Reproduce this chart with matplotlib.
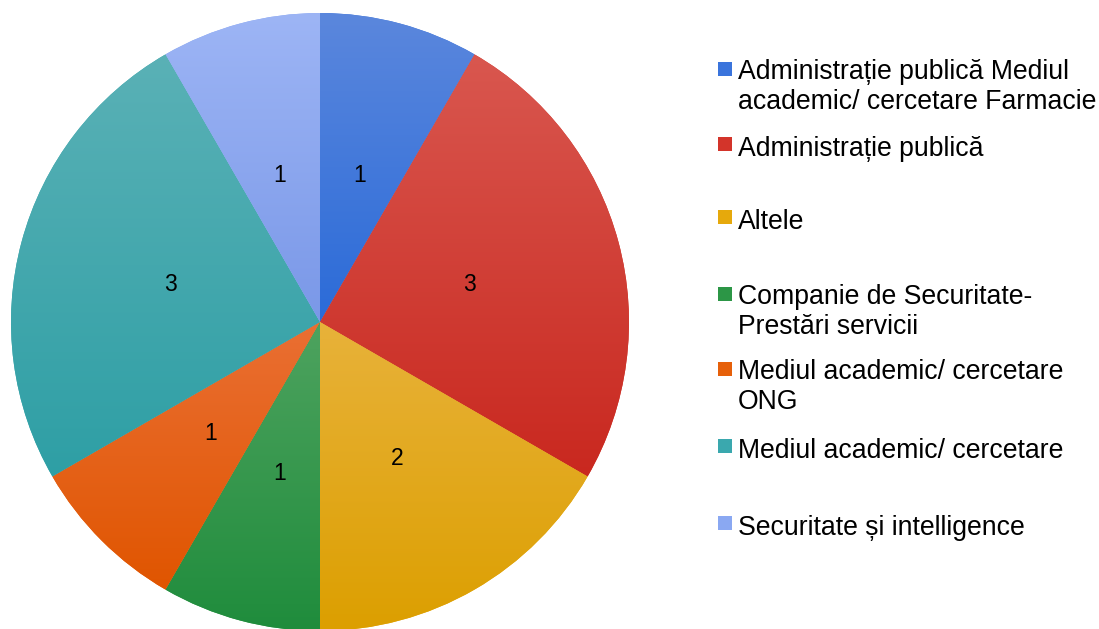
import numpy as np
import matplotlib
matplotlib.use("Agg")
import matplotlib.pyplot as plt
from matplotlib.colors import to_rgb
from matplotlib.patches import Rectangle

plt.rcParams['font.family'] = ['Liberation Sans', 'DejaVu Sans']

# date
categorii = [
    "Administrație publică Mediul\nacademic/ cercetare Farmacie",
    "Administrație publică",
    "Altele",
    "Companie de Securitate-\nPrestări servicii",
    "Mediul academic/ cercetare\nONG",
    "Mediul academic/ cercetare",
    "Securitate și intelligence",
]
valori = [1, 3, 2, 1, 1, 3, 1]

# culori: baza (legenda), sus / jos (gradient in felie)
culori = ["#3a74dc", "#d3342a", "#e6a90c", "#2c9646", "#e6600a", "#3aa8ae", "#8aa8f2"]
culori_sus = ["#5b87dd", "#d9574f", "#e8b23a", "#4ea35f", "#ea6f33", "#5ab1b6", "#9db5f5"]
culori_jos = ["#2b6bd8", "#c9281f", "#dc9f00", "#1f8c3c", "#e05500", "#2e9fa5", "#7a98e8"]

# linia de baza (primul rand) a textului din legenda, pixeli de sus
legenda_y = [81, 156, 229, 306, 381, 458, 535]
pas_rand = 28

W, H = 1099, 629
fig = plt.figure(figsize=(W / 100, H / 100), dpi=100)
cx, cy, R = 320, 322, 309
ax = fig.add_axes([(cx - R) / W, (H - cy - R) / H, 2 * R / W, 2 * R / H])

total = sum(valori)
wedges, texts, autotexts = ax.pie(
    valori, startangle=90, counterclock=False, radius=1,
    colors=culori, autopct=lambda p: f"{p * total / 100:.0f}",
    pctdistance=0.5, wedgeprops=dict(linewidth=0),
    textprops=dict(fontsize=16.5, color="black"))

for w, c_sus, c_jos in zip(wedges, culori_sus, culori_jos):
    v = w.get_path().vertices
    x0, x1 = v[:, 0].min(), v[:, 0].max()
    y0, y1 = v[:, 1].min(), v[:, 1].max()
    t = np.linspace(0, 1, 256)[:, None]
    grad = (1 - t) * np.array(to_rgb(c_sus)) + t * np.array(to_rgb(c_jos))
    grad = grad[:, None, :]
    im = ax.imshow(grad, extent=[x0, x1, y0, y1], origin="upper",
                   aspect="auto", zorder=2, interpolation="bilinear")
    im.set_clip_path(w)

for t in autotexts:
    t.set_zorder(5)
    t.set_va("center_baseline")

ax.set_xlim(-1, 1)
ax.set_ylim(-1, 1)
ax.set_aspect("equal")
ax.axis("off")

# legenda
for y, lab, c in zip(legenda_y, categorii, culori):
    fig.patches.append(Rectangle((718 / W, 1 - (y - 5) / H), 14 / W, 14 / H,
                                 transform=fig.transFigure, facecolor=c,
                                 edgecolor="none"))
    # va='baseline' se aliniaza pe ultimul rand
    y_ultim = y + pas_rand * lab.count("\n")
    fig.text(738 / W, 1 - y_ultim / H, lab, fontsize=19.2, va="baseline",
             ha="left", linespacing=1.18)

fig.savefig("out.png", dpi=100)
